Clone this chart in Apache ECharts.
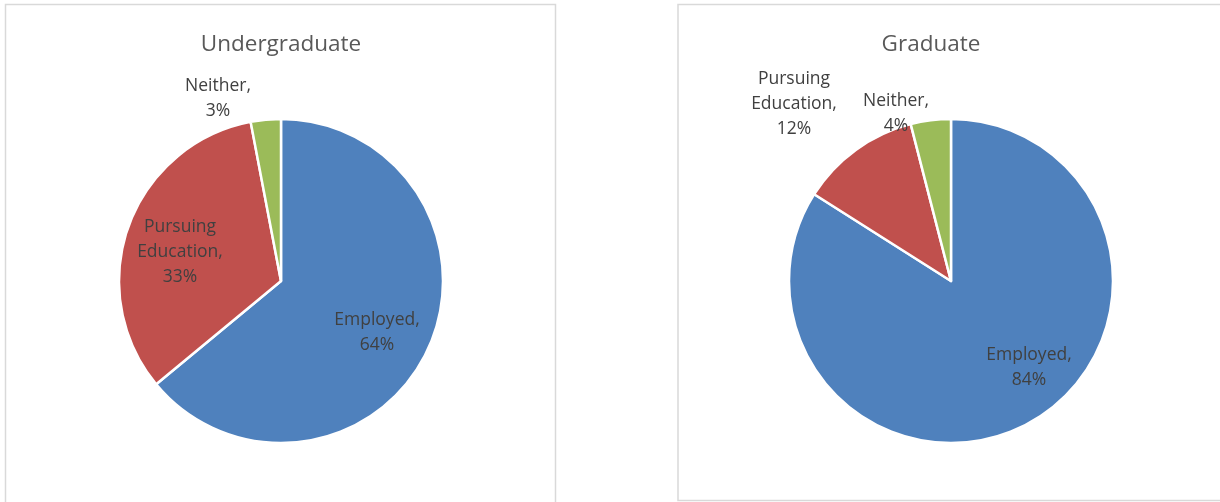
<!DOCTYPE html>
<html>
<head>
<meta charset="utf-8">
<script src="https://cdn.jsdelivr.net/npm/echarts@6/dist/echarts.min.js"></script>
<style>
html,body{margin:0;padding:0;background:#fff;}
#chart{width:1220px;height:502px;}
</style>
</head>
<body>
<div id="chart"></div>
<script>
// ---- data ----
const categories = ['Employed', 'Pursuing Education', 'Neither'];
const undergradValues = [64, 33, 3];
const gradValues = [84, 12, 4];
const chartTitles = ['Undergraduate', 'Graduate'];

// ---- styling / layout ----
const sliceColors = ['#4F81BD', '#C0504D', '#9BBB59'];
const pieCenters = [[281, 281], [951, 281]];
const pieRadius = 162;
// label centre offsets from pie centre (px)
const labelOffsets = [
  [[96, 52], [-101, -29], [-63, -182]],
  [[78, 87], [-157, -177], [-55, -167]]
];

function buildData(vals) {
  return categories.map((c, i) => ({
    name: c, value: vals[i], itemStyle: { color: sliceColors[i] }
  }));
}

function makeSeries(idx, vals) {
  const c = pieCenters[idx];
  return {
    type: 'pie',
    center: c,
    radius: pieRadius,
    startAngle: 90,
    clockwise: true,
    avoidLabelOverlap: false,
    animation: false,
    silent: true,
    itemStyle: { borderColor: '#ffffff', borderWidth: 2.5 },
    label: {
      show: true,
      position: 'inside',
      fontFamily: 'Open Sans',
      fontSize: 17.5,
      lineHeight: 25,
      color: '#404040',
      align: 'center',
      verticalAlign: 'middle',
      formatter: p => p.name.split(' ').join('\n') + ',\n' + p.value + '%'
    },
    labelLine: { show: false },
    labelLayout: function (params) {
      const o = labelOffsets[idx][params.dataIndex];
      return { x: c[0] + o[0], y: c[1] + o[1], align: 'center', verticalAlign: 'middle' };
    },
    data: buildData(vals)
  };
}

const chart = echarts.init(document.getElementById('chart'), null, { renderer: 'canvas' });
chart.setOption({
  backgroundColor: '#ffffff',
  animation: false,
  title: [
    { text: chartTitles[0], left: 276, top: 40, textAlign: 'center', textVerticalAlign: 'middle',
      textStyle: { fontFamily: 'Open Sans', fontSize: 22.5, fontWeight: 'normal', color: '#595959' } },
    { text: chartTitles[1], left: 926, top: 40, textAlign: 'center', textVerticalAlign: 'middle',
      textStyle: { fontFamily: 'Open Sans', fontSize: 22.5, fontWeight: 'normal', color: '#595959' } }
  ],
  graphic: [
    { type: 'rect', shape: { x: 5.5, y: 4.5, width: 550, height: 520 },
      style: { fill: 'none', stroke: '#D9D9D9', lineWidth: 1.5 }, z: -1 },
    { type: 'rect', shape: { x: 678, y: 4.5, width: 560, height: 496 },
      style: { fill: 'none', stroke: '#D9D9D9', lineWidth: 1.5 }, z: -1 }
  ],
  series: [makeSeries(0, undergradValues), makeSeries(1, gradValues)]
});
</script>
</body>
</html>
